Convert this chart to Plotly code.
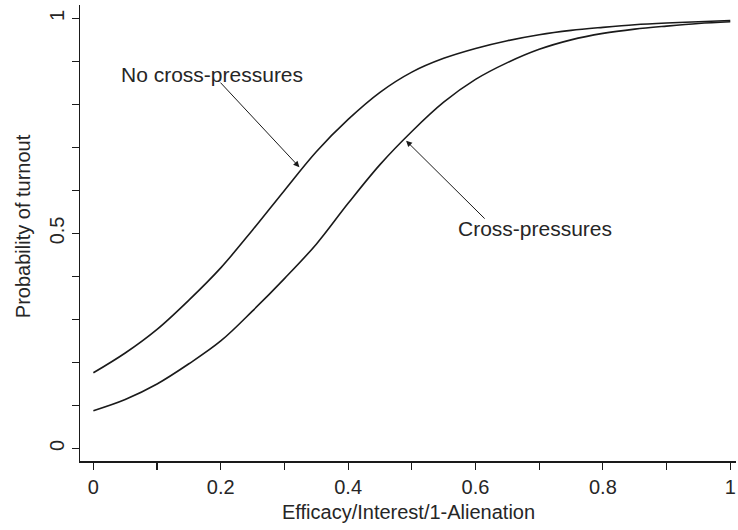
import plotly.graph_objects as go

efficacy = [0.0, 0.05, 0.1, 0.15, 0.2, 0.25, 0.3, 0.35, 0.4, 0.45, 0.5,
            0.55, 0.6, 0.65, 0.7, 0.75, 0.8, 0.85, 0.9, 0.95, 1.0]
no_cross = [0.176, 0.222, 0.277, 0.345, 0.420, 0.508, 0.600, 0.690, 0.765, 0.828, 0.875,
            0.907, 0.930, 0.948, 0.962, 0.972, 0.979, 0.985, 0.989, 0.992, 0.995]
cross = [0.088, 0.114, 0.150, 0.197, 0.250, 0.320, 0.395, 0.475, 0.570, 0.660, 0.737,
         0.805, 0.858, 0.897, 0.928, 0.950, 0.965, 0.975, 0.982, 0.988, 0.992]

x_ticks = [0, 0.2, 0.4, 0.6, 0.8, 1]
x_tick_labels = ["0", "0.2", "0.4", "0.6", "0.8", "1"]
y_ticks = [0, 0.5, 1]
y_tick_labels = ["0", "0.5", "1"]

LINE = "#1a1a1a"
TEXT = "#262626"
FONT = "Liberation Sans, Arial, sans-serif"

fig = go.Figure()
fig.add_trace(go.Scatter(x=efficacy, y=no_cross, mode="lines",
                         line=dict(color=LINE, width=1.6, shape="spline"),
                         name="No cross-pressures", showlegend=False))
fig.add_trace(go.Scatter(x=efficacy, y=cross, mode="lines",
                         line=dict(color=LINE, width=1.6, shape="spline"),
                         name="Cross-pressures", showlegend=False))

fig.add_annotation(x=0.3235, y=0.654, ax=0.1974, ay=0.854,
                   xref="x", yref="y", axref="x", ayref="y",
                   text="", showarrow=True, arrowhead=2, arrowsize=1.2,
                   arrowwidth=1, arrowcolor=LINE)
fig.add_annotation(x=0.187, y=0.870, xref="x", yref="y",
                   text="No cross-pressures", showarrow=False,
                   font=dict(size=21, color=TEXT, family=FONT))
fig.add_annotation(x=0.491, y=0.7155, ax=0.6167, ay=0.531,
                   xref="x", yref="y", axref="x", ayref="y",
                   text="", showarrow=True, arrowhead=2, arrowsize=1.2,
                   arrowwidth=1, arrowcolor=LINE)
fig.add_annotation(x=0.693, y=0.5126, xref="x", yref="y",
                   text="Cross-pressures", showarrow=False,
                   font=dict(size=21, color=TEXT, family=FONT))

# axis titles placed as annotations for exact positioning
fig.add_annotation(x=0.5, y=0, xref="paper", yref="paper", yshift=-51,
                   xanchor="center", yanchor="middle",
                   text="Efficacy/Interest/1-Alienation", showarrow=False,
                   font=dict(size=20, color=TEXT, family=FONT))
fig.add_annotation(x=0, y=0.515, xref="paper", yref="paper", xshift=-57,
                   xanchor="center", yanchor="middle",
                   text="Probability of turnout", showarrow=False, textangle=-90,
                   font=dict(size=20, color=TEXT, family=FONT))

fig.update_layout(
    width=738, height=530,
    margin=dict(l=80, r=2, t=5, b=69, autoexpand=False),
    paper_bgcolor="white", plot_bgcolor="white",
    font=dict(family=FONT, size=20, color=TEXT),
    xaxis=dict(range=[-0.021, 1.009], tickvals=x_ticks, ticktext=x_tick_labels,
               automargin=False,
               showgrid=False, zeroline=False, showline=True, linecolor=LINE,
               linewidth=1.5, ticks="outside", ticklen=7, tickwidth=1.2,
               tickcolor=LINE,
               minor=dict(dtick=0.1, tick0=0, ticks="outside", ticklen=7,
                          tickwidth=1.2, tickcolor=LINE, showgrid=False)),
    yaxis=dict(range=[-0.029, 1.031], tickvals=y_ticks, ticktext=y_tick_labels,
               tickangle=-90, automargin=False,
               showgrid=False, zeroline=False, showline=True, linecolor=LINE,
               linewidth=1.5, ticks="outside", ticklen=7, tickwidth=1.2,
               tickcolor=LINE,
               minor=dict(dtick=0.1, tick0=0, ticks="outside", ticklen=7,
                          tickwidth=1.2, tickcolor=LINE, showgrid=False)),
)

fig.write_html("out.html",
               config={"displayModeBar": False, "staticPlot": True},
               post_script="document.body.style.margin='0';"
                           "document.body.style.padding='0';"
                           "document.body.style.overflow='hidden';")
